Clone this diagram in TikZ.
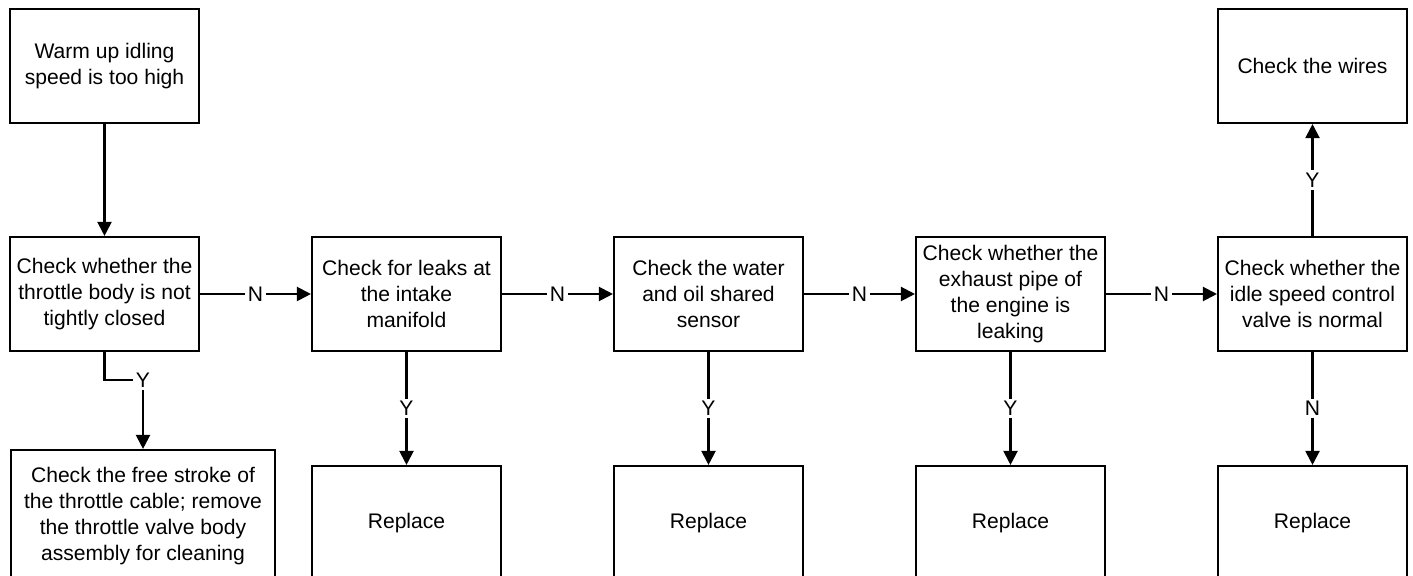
\documentclass[tikz,border=0pt]{standalone}
\usepackage{fontspec}
\setmainfont{Liberation Sans}
\usetikzlibrary{arrows.meta}

\tikzset{
  box/.style={draw, line width=1.2pt, minimum width=3.78cm, minimum height=2.28cm,
    inner sep=0pt, align=center, font=\fontsize{12}{14.7}\selectfont},
  arr/.style={line width=1.2pt, -{Triangle[length=0.28cm, width=0.28cm]}},
  lbl/.style={fill=white, inner sep=1.5pt, font=\fontsize{12}{14.7}\selectfont}
}

\begin{document}
\begin{tikzpicture}
  \useasboundingbox (0, 0) rectangle (28.26, 11.52);

  % Top row
  \node[box] (warm) at (2.09, 10.2) {Warm up idling\\speed is too high};
  \node[box] (wires) at (26.25, 10.2) {Check the wires};

  % Checks
  \node[box] (throttle) at (2.09, 5.64) {Check whether the\\throttle body is not\\tightly closed};
  \node[box] (intake) at (8.13, 5.64) {Check for leaks at\\the intake\\manifold};
  \node[box] (sensor) at (14.17, 5.64) {Check the water\\and oil shared\\sensor};
  \node[box] (exhaust) at (20.21, 5.64) {Check whether the\\exhaust pipe of\\the engine is\\leaking};
  \node[box] (idle) at (26.25, 5.64) {Check whether the\\idle speed control\\valve is normal};

  % Bottom row
  \node[box, minimum width=5.28cm, minimum height=2.64cm] (clean) at (2.86, 1.2)
    {Check the free stroke of\\the throttle cable; remove\\the throttle valve body\\assembly for cleaning};
  \node[box] (replintake) at (8.13, 1.06) {Replace};
  \node[box] (replsensor) at (14.17, 1.06) {Replace};
  \node[box] (replexhaust) at (20.21, 1.06) {Replace};
  \node[box] (replidle) at (26.25, 1.06) {Replace};

  % N chain
  \draw[arr] (warm) -- (throttle);
  \draw[arr] (throttle) -- node[lbl] {N} (intake);
  \draw[arr] (intake) -- node[lbl] {N} (sensor);
  \draw[arr] (sensor) -- node[lbl] {N} (exhaust);
  \draw[arr] (exhaust) -- node[lbl] {N} (idle);

  % Y / N branches
  \coordinate (ycorner) at (2.86, 3.92);
  \draw[arr] (throttle.south) |- (ycorner) node[lbl] {Y} -- (clean.north);
  \draw[arr] (intake) -- node[lbl] {Y} (replintake);
  \draw[arr] (sensor) -- node[lbl] {Y} (replsensor);
  \draw[arr] (exhaust) -- node[lbl] {Y} (replexhaust);
  \draw[arr] (idle) -- node[lbl] {N} (replidle);
  \draw[arr] (idle) -- node[lbl] {Y} (wires);
\end{tikzpicture}
\end{document}
